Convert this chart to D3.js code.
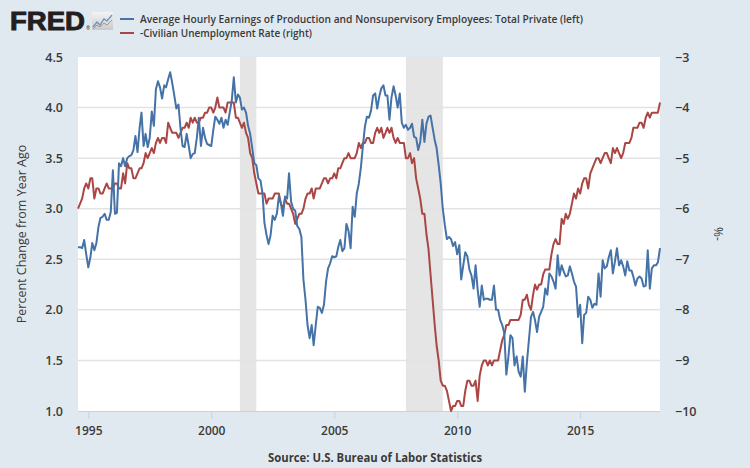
<!DOCTYPE html>
<html><head><meta charset="utf-8">
<script src="https://cdn.jsdelivr.net/npm/d3@7/dist/d3.min.js"></script>
<style>
html,body{margin:0;padding:0;background:#e1e9f0;}
svg{display:block;}
</style>
</head><body>
<svg id="chart" width="750" height="468"></svg>
<script>
// ---------- DATA ----------
const firstMonth = [1994, 7]; // Aug 1994 (month index 0-based)
const seriesNames = [
  "Average Hourly Earnings of Production and Nonsupervisory Employees: Total Private (left)",
  "-Civilian Unemployment Rate (right)"
];
const earningsYoY = [
2.62,2.62,2.61,2.69,2.55,2.42,2.52,2.66,2.59,2.66,2.82,2.91,2.92,2.95,2.89,2.89,2.97,3.38,2.95,2.96,
3.45,3.42,3.50,3.42,3.50,3.52,3.53,3.58,3.72,3.56,3.80,3.95,3.62,3.74,3.61,3.70,3.96,3.82,4.18,4.26,
4.20,4.09,4.22,4.20,4.28,4.35,4.24,4.12,3.99,4.03,3.80,3.62,3.61,3.74,3.62,3.50,3.54,3.55,3.70,3.90,
3.62,3.80,3.70,3.64,3.63,3.62,3.78,3.91,3.88,3.84,3.90,3.80,3.88,3.83,3.95,4.07,4.30,4.05,4.13,4.10,
3.98,4.00,3.95,3.82,3.74,3.60,3.45,3.43,3.30,3.28,3.15,2.86,2.74,2.65,2.74,2.93,2.89,2.95,3.12,3.05,
2.93,3.12,3.10,3.35,3.07,3.00,2.98,2.83,2.80,2.72,2.30,2.10,1.85,1.72,1.85,1.65,1.85,2.03,2.02,1.97,
2.05,2.28,2.41,2.46,2.53,2.52,2.53,2.62,2.69,2.58,2.61,2.85,2.78,2.61,3.02,2.92,3.15,3.25,3.41,3.61,
3.81,3.91,3.90,3.97,4.12,4.14,3.99,4.11,4.19,4.22,4.12,4.12,3.88,4.10,4.21,4.12,4.00,4.14,3.85,3.80,
3.83,3.78,3.80,3.84,3.71,3.70,3.58,3.66,3.88,3.66,3.84,3.91,3.92,3.80,3.68,3.60,3.43,3.25,3.00,2.84,
2.70,2.72,2.70,2.63,2.67,2.55,2.64,2.30,2.44,2.57,2.53,2.40,2.34,2.21,2.44,2.20,2.03,2.24,2.10,2.11,
2.11,2.10,2.10,2.24,2.00,2.00,1.90,1.85,1.77,1.36,1.54,1.75,1.72,1.45,1.54,1.39,1.34,1.54,1.19,1.48,
1.70,1.93,1.98,1.90,1.78,1.93,1.98,2.03,2.21,2.15,2.36,2.33,2.28,2.21,2.54,2.34,2.44,2.38,2.33,2.34,
2.43,2.36,2.28,2.23,1.93,2.05,1.67,1.95,1.97,2.13,2.10,2.02,2.06,2.05,2.36,2.13,2.49,2.41,2.43,2.52,
2.59,2.36,2.48,2.61,2.44,2.49,2.43,2.34,2.48,2.39,2.39,2.33,2.24,2.31,2.33,2.31,2.23,2.24,2.59,2.21,
2.41,2.44,2.44,2.47,2.61
];
const unemploymentNeg = [
-6.0,-5.9,-5.8,-5.6,-5.5,
-5.6,-5.4,-5.4,-5.8,-5.6,-5.6,-5.7,-5.7,-5.6,-5.5,-5.6,-5.6,
-5.6,-5.5,-5.5,-5.6,-5.6,-5.3,-5.5,-5.1,-5.2,-5.2,-5.4,-5.4,
-5.3,-5.2,-5.2,-5.1,-4.9,-5.0,-4.9,-4.8,-4.9,-4.7,-4.6,-4.7,
-4.6,-4.6,-4.7,-4.3,-4.4,-4.5,-4.5,-4.5,-4.6,-4.5,-4.4,-4.4,
-4.3,-4.4,-4.2,-4.3,-4.2,-4.3,-4.3,-4.2,-4.2,-4.1,-4.1,-4.0,
-4.0,-4.1,-4.0,-3.8,-4.0,-4.0,-4.0,-4.1,-3.9,-3.9,-3.9,-3.9,
-4.2,-4.2,-4.3,-4.4,-4.3,-4.5,-4.6,-4.9,-5.0,-5.3,-5.5,-5.7,
-5.7,-5.7,-5.7,-5.9,-5.8,-5.8,-5.8,-5.7,-5.7,-5.7,-5.9,-6.0,
-5.8,-5.9,-5.9,-6.0,-6.1,-6.3,-6.2,-6.1,-6.1,-6.0,-5.8,-5.7,
-5.7,-5.6,-5.8,-5.6,-5.6,-5.6,-5.5,-5.4,-5.4,-5.5,-5.4,-5.4,
-5.3,-5.4,-5.2,-5.2,-5.1,-5.0,-5.0,-4.9,-5.0,-5.0,-5.0,-4.9,
-4.7,-4.8,-4.7,-4.7,-4.6,-4.6,-4.7,-4.7,-4.5,-4.4,-4.5,-4.4,
-4.6,-4.5,-4.4,-4.5,-4.4,-4.6,-4.7,-4.6,-4.7,-4.7,-4.7,-5.0,
-5.0,-4.9,-5.1,-5.0,-5.4,-5.6,-5.8,-6.1,-6.1,-6.5,-6.8,-7.3,
-7.8,-8.3,-8.7,-9.0,-9.4,-9.5,-9.5,-9.6,-9.8,-10.0,-9.9,-9.9,
-9.8,-9.8,-9.9,-9.9,-9.6,-9.4,-9.4,-9.5,-9.5,-9.4,-9.8,-9.3,
-9.1,-9.0,-9.0,-9.1,-9.0,-9.1,-9.0,-9.0,-9.0,-8.8,-8.6,-8.5,
-8.3,-8.3,-8.2,-8.2,-8.2,-8.2,-8.2,-8.1,-7.8,-7.8,-7.7,-7.9,
-8.0,-7.7,-7.5,-7.6,-7.5,-7.5,-7.3,-7.2,-7.2,-7.2,-6.9,-6.7,
-6.6,-6.7,-6.7,-6.2,-6.3,-6.1,-6.2,-6.1,-5.9,-5.7,-5.8,-5.6,
-5.7,-5.5,-5.4,-5.4,-5.6,-5.3,-5.2,-5.1,-5.0,-5.0,-5.1,-5.0,
-4.9,-4.9,-5.0,-5.1,-4.8,-4.9,-4.8,-4.9,-5.0,-4.9,-4.7,-4.7,
-4.7,-4.6,-4.4,-4.4,-4.4,-4.3,-4.3,-4.4,-4.2,-4.1,-4.2,-4.1,
-4.1,-4.1,-4.1,-3.9
];
const leftTicks = [1.0, 1.5, 2.0, 2.5, 3.0, 3.5, 4.0, 4.5];
const rightTicks = [-10, -9, -8, -7, -6, -5, -4, -3];
const yearTicks = [1995, 2000, 2005, 2010, 2015];
const recessions = [["2001-03-01", "2001-11-01"], ["2007-12-01", "2009-06-01"]];
const leftTitle = "Percent Change from Year Ago";
const rightTitle = "%-";
const sourceText = "Source: U.S. Bureau of Labor Statistics";

// ---------- LAYOUT ----------
const plot = {left: 78, right: 660, top: 57, bottom: 411};
const colors = {bg: "#e1e9f0", blue: "#4572a7", red: "#aa4643", grid: "#e3e3e3", text: "#3a3a3a", rec: "#e5e5e5", axis: "#c5d3e0"};
const FONT = "'Open Sans', 'Liberation Sans', Arial, sans-serif";

const svg = d3.select("#chart");
svg.append("rect").attr("width", 750).attr("height", 468).attr("fill", colors.bg);

const dates = earningsYoY.map((_, i) => new Date(firstMonth[0], firstMonth[1] + i, 1));
const x = d3.scaleTime().domain([dates[0], dates[dates.length - 1]]).range([plot.left, plot.right]);
const yL = d3.scaleLinear().domain([1, 4.5]).range([plot.bottom, plot.top]);
const yR = d3.scaleLinear().domain([-10, -3]).range([plot.bottom, plot.top]);

// plot background
svg.append("rect").attr("x", plot.left).attr("y", plot.top)
  .attr("width", plot.right - plot.left).attr("height", plot.bottom - plot.top).attr("fill", "#ffffff");

// recessions
const parse = d3.timeParse("%Y-%m-%d");
svg.append("g").selectAll("rect").data(recessions).join("rect")
  .attr("x", d => x(parse(d[0])))
  .attr("width", d => x(parse(d[1])) - x(parse(d[0])))
  .attr("y", plot.top).attr("height", plot.bottom - plot.top)
  .attr("fill", colors.rec);

// gridlines
svg.append("g").selectAll("line").data(leftTicks.filter(t => t > 1 && t < 4.5)).join("line")
  .attr("x1", plot.left).attr("x2", plot.right)
  .attr("y1", d => yL(d)).attr("y2", d => yL(d))
  .attr("stroke", colors.grid).attr("stroke-width", 1.5);

// bottom axis line + ticks
svg.append("line").attr("x1", plot.left).attr("x2", plot.right)
  .attr("y1", plot.bottom + 0.5).attr("y2", plot.bottom + 0.5)
  .attr("stroke", colors.axis).attr("stroke-width", 1);
const xAxis = d3.axisBottom(x)
  .tickValues(yearTicks.map(yy => new Date(yy, 0, 1)))
  .tickFormat(d3.timeFormat("%Y")).tickSize(8).tickPadding(7);
const gx = svg.append("g").attr("transform", `translate(0,${plot.bottom})`).call(xAxis);
gx.select(".domain").remove();
gx.selectAll(".tick line").attr("stroke", colors.axis);
gx.selectAll(".tick text").attr("fill", colors.text).style("font-family", FONT)
  .style("font-size", "12px").style("font-weight", "600");

// left axis
const gl = svg.append("g").attr("transform", `translate(${plot.left},0)`)
  .call(d3.axisLeft(yL).tickValues(leftTicks).tickFormat(d3.format(".1f")).tickSize(0).tickPadding(15));
gl.select(".domain").remove();
gl.selectAll(".tick text").attr("fill", colors.text).style("font-family", FONT)
  .style("font-size", "12.5px").style("font-weight", "600");

// right axis
const gr = svg.append("g").attr("transform", `translate(${plot.right},0)`)
  .call(d3.axisRight(yR).tickValues(rightTicks).tickFormat(d3.format("d")).tickSize(0).tickPadding(15));
gr.select(".domain").remove();
gr.selectAll(".tick text").attr("fill", colors.text).style("font-family", FONT)
  .style("font-size", "12.5px").style("font-weight", "600");

// lines
const lineL = d3.line().x((d, i) => x(dates[i])).y(d => yL(d));
const lineR = d3.line().x((d, i) => x(dates[i])).y(d => yR(d));
svg.append("path").datum(unemploymentNeg).attr("d", lineR)
  .attr("fill", "none").attr("stroke", colors.red).attr("stroke-width", 2).attr("stroke-linejoin", "round");
svg.append("path").datum(earningsYoY).attr("d", lineL)
  .attr("fill", "none").attr("stroke", colors.blue).attr("stroke-width", 2).attr("stroke-linejoin", "round");

// axis titles
svg.append("text").attr("transform", `translate(26,${(plot.top + plot.bottom) / 2}) rotate(-90)`)
  .attr("text-anchor", "middle").attr("fill", colors.text)
  .style("font-family", FONT).style("font-size", "12.5px").text(leftTitle);
svg.append("text").attr("transform", `translate(714,${(plot.top + plot.bottom) / 2}) rotate(90)`)
  .attr("text-anchor", "middle").attr("fill", colors.text)
  .style("font-family", FONT).style("font-size", "12px").text(rightTitle);

// source
svg.append("text").attr("x", 375).attr("y", 462).attr("text-anchor", "middle")
  .attr("fill", colors.text).style("font-family", FONT).style("font-size", "13px").style("font-weight", "bold")
  .attr("textLength", 214).attr("lengthAdjust", "spacingAndGlyphs").text(sourceText);

// FRED logo
svg.append("text").attr("x", 10).attr("y", 29.5).attr("fill", "#231f20").attr("stroke", "#231f20").attr("stroke-width", 0.9)
  .style("font-family", "'Liberation Sans', Arial, sans-serif").style("font-size", "25px").style("font-weight", "900")
  .attr("textLength", 75).attr("lengthAdjust", "spacingAndGlyphs").text("FRED");
svg.append("text").attr("x", 86).attr("y", 30).attr("fill", "#231f20")
  .style("font-family", FONT).style("font-size", "5px").text("®");
const icon = svg.append("g").attr("transform", "translate(92,12)");
const grad = svg.append("defs").append("linearGradient").attr("id", "ig").attr("x1", 0).attr("y1", 0).attr("x2", 0).attr("y2", 1);
grad.append("stop").attr("offset", 0).attr("stop-color", "#f4f4f4");
grad.append("stop").attr("offset", 1).attr("stop-color", "#c9c9c9");
icon.append("rect").attr("width", 21).attr("height", 18).attr("fill", "url(#ig)");
icon.append("path").attr("d", "M1,15 L5,10 L8,13 L12,7 L15,9 L20,3").attr("fill", "none").attr("stroke", "#6f8fb9").attr("stroke-width", 1.3);
icon.append("path").attr("d", "M1,17 L5,13 L8,15 L12,11 L15,13 L20,8").attr("fill", "none").attr("stroke", "#9a9a9a").attr("stroke-width", 1);

// legend
const legend = svg.append("g");
[[colors.blue, 19], [colors.red, 33]].forEach(([c, yy], i) => {
  legend.append("line").attr("x1", 120).attr("x2", 134).attr("y1", yy).attr("y2", yy)
    .attr("stroke", c).attr("stroke-width", 2);
  legend.append("text").attr("x", 140).attr("y", yy + 4).attr("fill", colors.text)
    .style("font-family", FONT).style("font-size", "11px").style("font-weight", "600")
    .attr("textLength", i === 0 ? 443 : 172).attr("lengthAdjust", "spacingAndGlyphs")
    .text(seriesNames[i]);
});
</script>
</body></html>
